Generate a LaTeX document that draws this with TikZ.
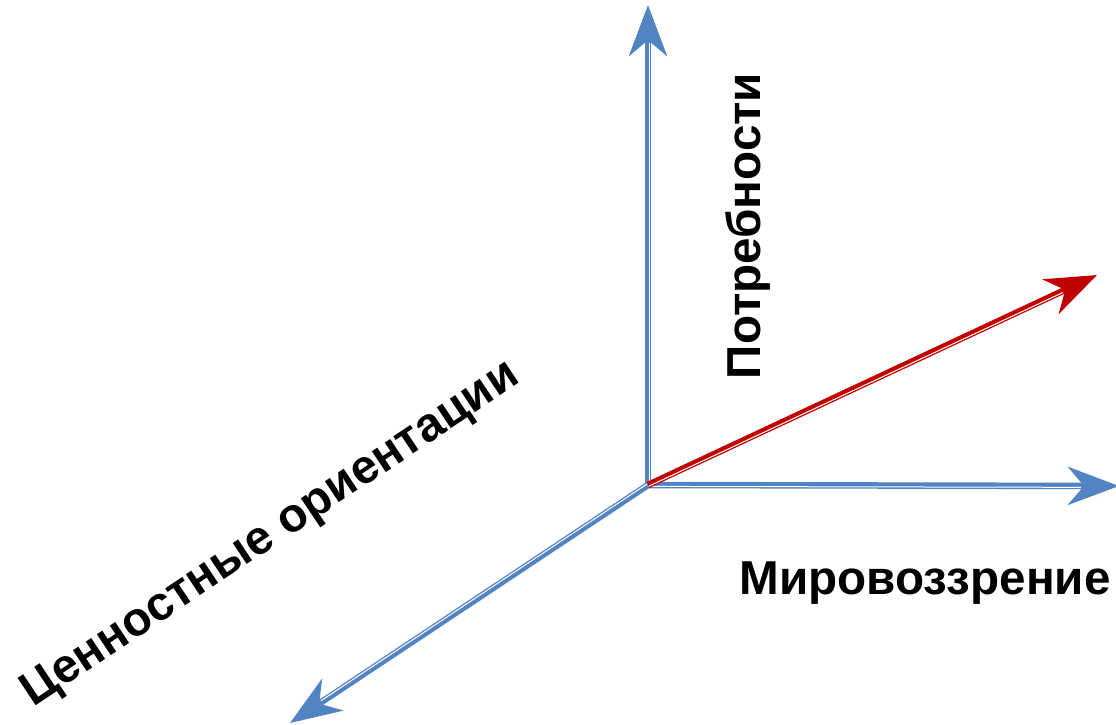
\documentclass[tikz,border=0pt]{standalone}
\usepackage{fontspec}
\setmainfont{Liberation Sans}
\usetikzlibrary{arrows.meta,calc}
\begin{document}
\begin{tikzpicture}[x=1pt,y=-1pt,
  axis/.style={line width=6.5pt,draw=axisblue,
    -{Stealth[length=51pt,width=38pt,inset=16pt]}},
  result/.style={line width=6.5pt,draw=resultred,
    -{Stealth[length=51pt,width=38pt,inset=16pt]}},
  stripe/.style={line width=1pt,draw=white,shorten >=38pt},
  label/.style={font=\fontsize{47.6}{52}\selectfont\bfseries,inner sep=0pt}]
\definecolor{axisblue}{HTML}{5283C2}
\definecolor{resultred}{HTML}{C00000}
\useasboundingbox (0,0) rectangle (1116,724);
\fill[white] (0,0) rectangle (1116,724);

\coordinate (O) at (648,485);
\coordinate (up) at (648,5);
\coordinate (right) at (1119,486);
\coordinate (down) at (290,723);
\coordinate (res) at (1097,275);

% axes with a thin white stripe along one side
\foreach \t/\s in {up/axis,right/axis,down/axis,res/result}{
  \draw[\s] (O) -- (\t);
  \draw[stripe] ($(O)!1.4pt!-90:(\t)$) -- ($(\t)!1.4pt!90:(O)$);
}

\node[label,rotate=90] (needs) at (748,226) {Потребности};
\node[label] (world) at (925,583) {Мировоззрение};
\node[label,rotate=33.7] (values) at (271,535) {Ценностные ориентации};
\end{tikzpicture}
\end{document}
